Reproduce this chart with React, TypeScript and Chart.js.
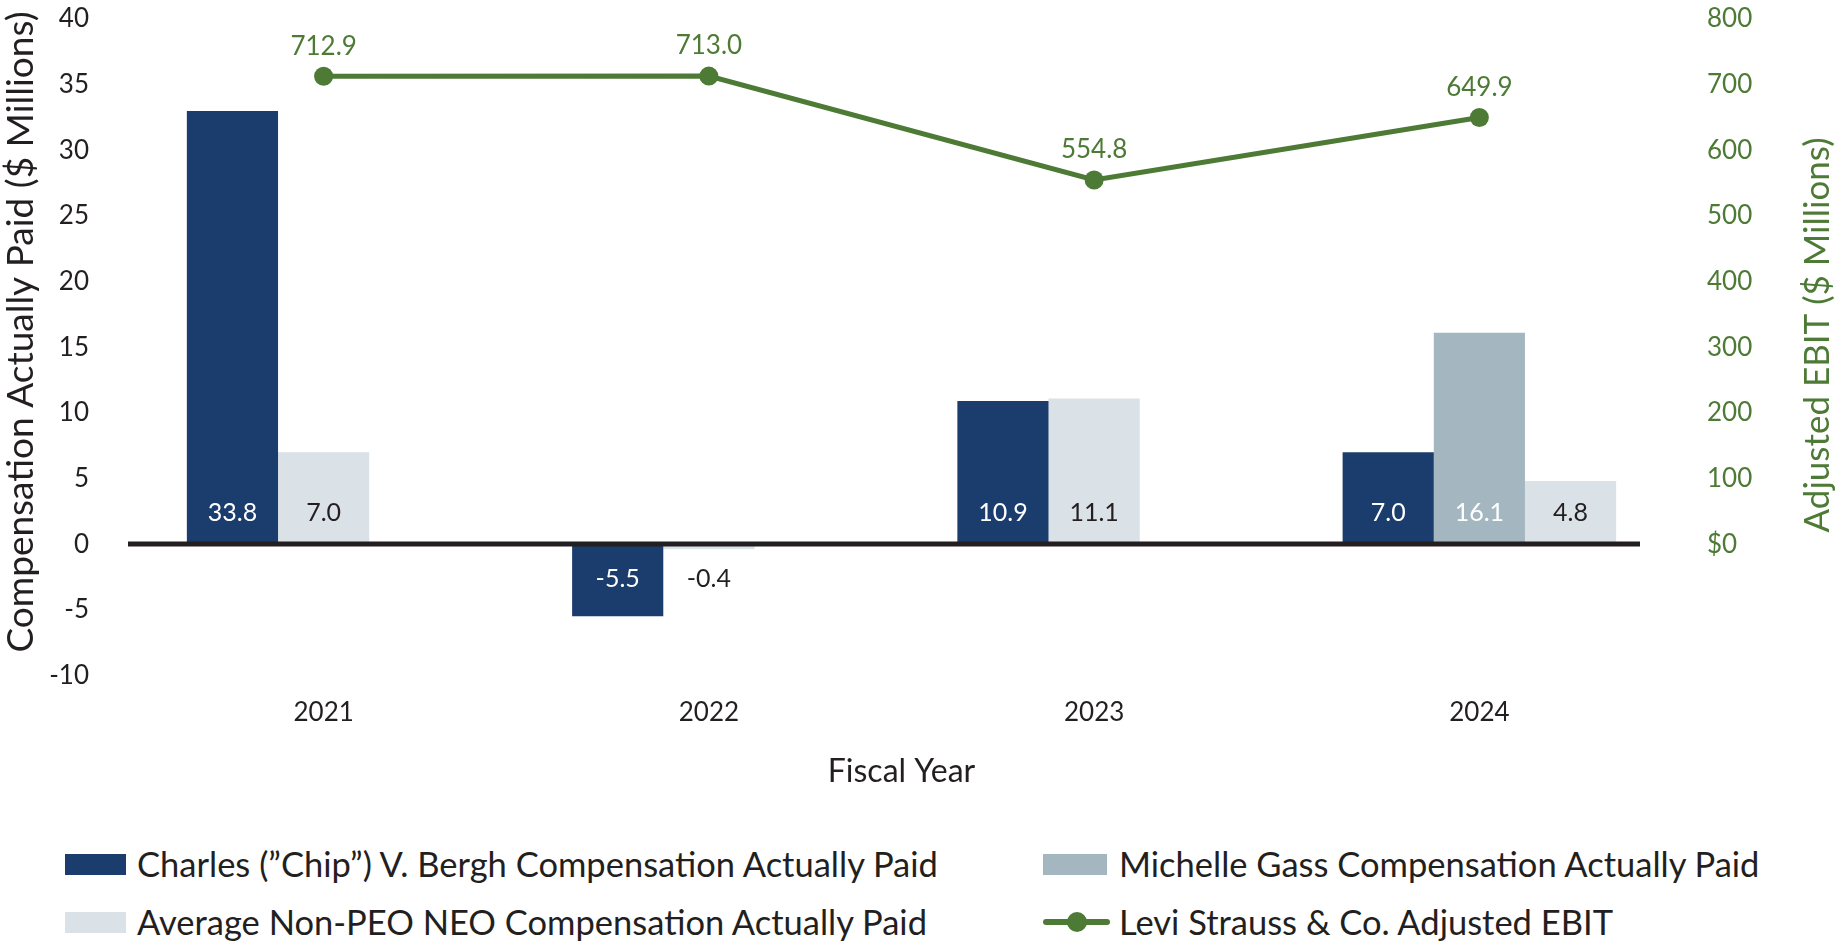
import React, { useEffect, useRef } from 'react';
import { Chart, registerables } from 'chart.js';

Chart.register(...registerables);

// ---- data ----
const categories = ['2021', '2022', '2023', '2024'];
const berghValues: number[] = [33.0, -5.5, 10.9, 7.0];
const berghLabels = ['33.8', '-5.5', '10.9', '7.0'];
const gassValues: (number | null)[] = [null, null, null, 16.1];
const gassLabels = ['', '', '', '16.1'];
const avgValues: number[] = [7.0, -0.4, 11.1, 4.8];
const avgLabels = ['7.0', '-0.4', '11.1', '4.8'];
const ebitValues: number[] = [712.9, 713.0, 554.8, 649.9];
const ebitLabels = ['712.9', '713.0', '554.8', '649.9'];
const leftAxis = { min: -10, max: 40, step: 5 };
const rightAxis = { min: -200, max: 800, step: 100 };

const seriesNames = {
  bergh: 'Charles (\u201dChip\u201d) V. Bergh Compensation Actually Paid',
  gass: 'Michelle Gass Compensation Actually Paid',
  avg: 'Average Non-PEO NEO Compensation Actually Paid',
  ebit: 'Levi Strauss & Co. Adjusted EBIT',
};

// ---- style ----
const FONT = 'Lato, "Open Sans", sans-serif';
const NAVY = '#1b3d6d';
const GASS = '#a4b7c1';
const AVG = '#dae1e7';
const GREEN = '#4d7a35';
const DARK = '#231f20';

export default function App() {
  const ref = useRef<HTMLCanvasElement>(null);

  useEffect(() => {
    if (!ref.current) return;
    const midValues = categories.map((_, i) => (gassValues[i] != null ? gassValues[i] : avgValues[i]));
    const midColors = categories.map((_, i) => (gassValues[i] != null ? GASS : AVG));
    const midLabels = categories.map((_, i) => (gassValues[i] != null ? gassLabels[i] : avgLabels[i]));
    const midLabelColors = categories.map((_, i) => (gassValues[i] != null ? '#ffffff' : DARK));
    const rightValues = categories.map((_, i) => (gassValues[i] != null ? avgValues[i] : null));

    const overlay = {
      id: 'overlay',
      afterDatasetsDraw(chart: any) {
        const ctx = chart.ctx;
        const ca = chart.chartArea;
        const y0 = chart.scales.y.getPixelForValue(0);
        ctx.save();
        // zero line
        ctx.strokeStyle = DARK;
        ctx.lineWidth = 5;
        ctx.beginPath();
        ctx.moveTo(ca.left - 3, y0);
        ctx.lineTo(ca.right - 32, y0);
        ctx.stroke();
        // value labels
        ctx.textAlign = 'center';
        ctx.textBaseline = 'middle';
        chart.data.datasets.forEach((ds: any, di: number) => {
          const meta = chart.getDatasetMeta(di);
          if (!ds.valueLabels) return;
          meta.data.forEach((el: any, i: number) => {
            const v = ds.data[i];
            if (v == null) return;
            if (ds.type === 'line') {
              ctx.fillStyle = GREEN;
              ctx.font = `26px ${FONT}`;
              ctx.fillText(ds.valueLabels[i], el.x, el.y - 30);
            } else {
              ctx.fillStyle = ds.labelColors[i];
              ctx.font = `25px ${FONT}`;
              ctx.fillText(ds.valueLabels[i], el.x, v >= 0 ? y0 - 31 : y0 + 35);
            }
          });
        });
        // vertical axis titles
        ctx.font = `37px ${FONT}`;
        ctx.fillStyle = DARK;
        ctx.save();
        ctx.translate(21, 332);
        ctx.rotate(-Math.PI / 2);
        ctx.fillText('Compensation Actually Paid ($ Millions)', 0, 0);
        ctx.restore();
        ctx.font = `35px ${FONT}`;
        ctx.fillStyle = GREEN;
        ctx.translate(1818, 335);
        ctx.rotate(-Math.PI / 2);
        ctx.fillText('Adjusted EBIT ($ Millions)', 0, 0);
        ctx.restore();
      },
    };

    const chart = new Chart(ref.current, {
      type: 'bar',
      data: {
        labels: categories,
        datasets: [
          {
            type: 'line',
            label: seriesNames.ebit,
            data: ebitValues,
            yAxisID: 'y1',
            borderColor: GREEN,
            backgroundColor: GREEN,
            borderWidth: 5,
            pointRadius: 9.5,
            pointHoverRadius: 9.5,
            pointBackgroundColor: GREEN,
            pointBorderWidth: 0,
            tension: 0,
            fill: false,
            valueLabels: ebitLabels,
          } as any,
          {
            label: seriesNames.bergh,
            data: berghValues,
            yAxisID: 'y',
            backgroundColor: NAVY,
            categoryPercentage: 0.71,
            barPercentage: 1,
            valueLabels: berghLabels,
            labelColors: categories.map(() => '#ffffff'),
          } as any,
          {
            label: seriesNames.gass + ' / ' + seriesNames.avg,
            data: midValues,
            yAxisID: 'y',
            backgroundColor: midColors,
            categoryPercentage: 0.71,
            barPercentage: 1,
            valueLabels: midLabels,
            labelColors: midLabelColors,
          } as any,
          {
            label: seriesNames.avg,
            data: rightValues,
            yAxisID: 'y',
            backgroundColor: AVG,
            categoryPercentage: 0.71,
            barPercentage: 1,
            valueLabels: avgLabels,
            labelColors: categories.map(() => DARK),
          } as any,
        ],
      },
      options: {
        animation: false,
        responsive: true,
        maintainAspectRatio: false,
        layout: { padding: { top: 19, bottom: 10, left: 0, right: 0 } },
        plugins: {
          legend: { display: false },
          tooltip: { enabled: false },
        },
        scales: {
          x: {
            grid: { display: false, drawTicks: false },
            border: { display: false },
            ticks: { font: { family: FONT, size: 26 }, color: DARK, padding: 22 },
            title: {
              display: true,
              text: 'Fiscal Year',
              font: { family: FONT, size: 32 },
              color: DARK,
              padding: { top: 2, bottom: 8 },
            },
          },
          y: {
            position: 'left',
            min: leftAxis.min,
            max: leftAxis.max,
            grid: { display: false, drawTicks: true, tickLength: 42 },
            border: { display: false },
            ticks: {
              stepSize: leftAxis.step,
              font: { family: FONT, size: 26 },
              color: DARK,
              padding: 0,
            },
            afterFit: (s: any) => {
              s.width = 131;
            },
          },
          y1: {
            position: 'right',
            min: rightAxis.min,
            max: rightAxis.max,
            grid: { display: false, drawTicks: true, tickLength: 35 },
            border: { display: false },
            ticks: {
              stepSize: rightAxis.step,
              font: { family: FONT, size: 26 },
              color: GREEN,
              padding: 0,
              callback: (v: any) => (v < 0 ? null : v === 0 ? '$0' : String(v)),
            },
            afterFit: (s: any) => {
              s.width = 173;
            },
          },
        },
      } as any,
      plugins: [overlay],
    });
    return () => chart.destroy();
  }, []);

  const legendText: React.CSSProperties = {
    fontFamily: FONT,
    fontSize: 34.5,
    color: DARK,
    whiteSpace: 'nowrap',
    lineHeight: '40px',
  };
  const item = (left: number, top: number): React.CSSProperties => ({
    position: 'absolute',
    left,
    top: top - 20,
    height: 40,
    display: 'flex',
    alignItems: 'center',
  });

  return (
    <div style={{ position: 'absolute', left: 0, top: 0, width: 1845, height: 947, background: '#fff' }}>
      <div style={{ position: 'absolute', left: 0, top: 0, width: 1845, height: 809 }}>
        <canvas ref={ref} />
      </div>
      <div style={item(65, 864)}>
        <div style={{ width: 61, height: 21, background: NAVY, marginRight: 11 }} />
        <span style={legendText}>{seriesNames.bergh}</span>
      </div>
      <div style={item(1043, 864)}>
        <div style={{ width: 64, height: 21, background: GASS, marginRight: 12 }} />
        <span style={legendText}>{seriesNames.gass}</span>
      </div>
      <div style={item(65, 922)}>
        <div style={{ width: 61, height: 21, background: AVG, marginRight: 11 }} />
        <span style={legendText}>{seriesNames.avg}</span>
      </div>
      <div style={item(1043, 922)}>
        <div style={{ position: 'relative', width: 67, height: 40, marginRight: 9 }}>
          <div style={{ position: 'absolute', left: 0, top: 17, width: 67, height: 6, background: GREEN, borderRadius: 3 }} />
          <div style={{ position: 'absolute', left: 23.5, top: 10, width: 20, height: 20, background: GREEN, borderRadius: 10 }} />
        </div>
        <span style={legendText}>{seriesNames.ebit}</span>
      </div>
    </div>
  );
}
